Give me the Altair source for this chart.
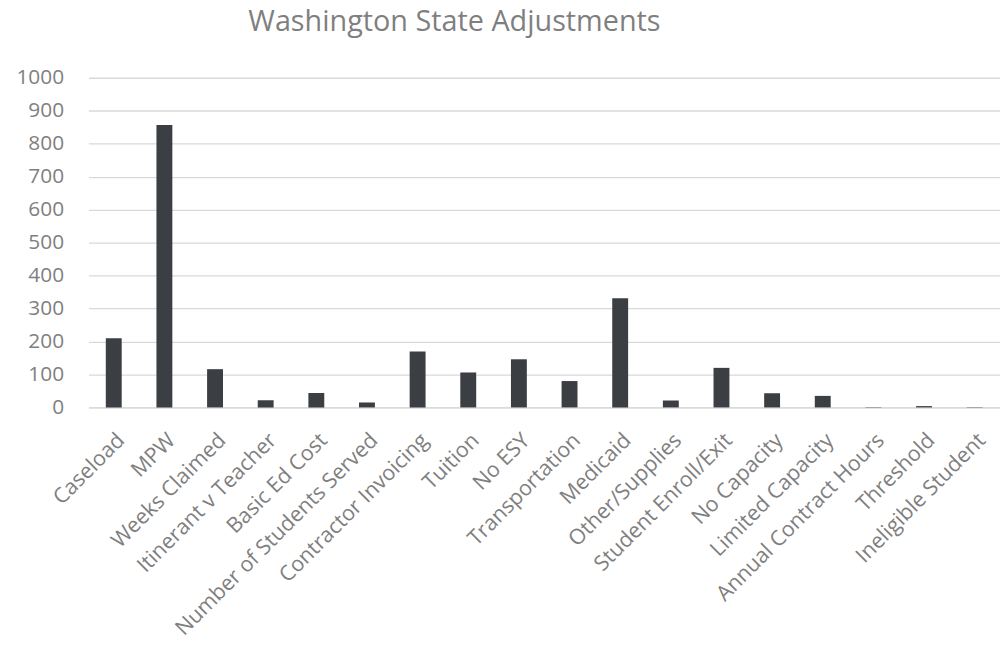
import altair as alt
import pandas as pd

categories = ["Caseload", "MPW", "Weeks Claimed", "Itinerant v Teacher", "Basic Ed Cost",
              "Number of Students Served", "Contractor Invoicing", "Tuition", "No ESY",
              "Transportation", "Medicaid", "Other/Supplies", "Student Enroll/Exit",
              "No Capacity", "Limited Capacity", "Annual Contract Hours", "Threshold",
              "Ineligible Student"]
values = [210, 857, 116, 22, 44, 15, 170, 106, 146, 80, 331, 21, 120, 43, 35, 1, 4, 1]
y_ticks = list(range(0, 1001, 100))

df = pd.DataFrame({"category": categories, "value": values})

FONT = "Open Sans"
GRAY = "#7f7f7f"

chart = alt.Chart(df).mark_bar(color="#3b3f43").encode(
    x=alt.X("category:N", sort=categories, title=None,
            scale=alt.Scale(paddingInner=0.686, paddingOuter=0.343),
            axis=alt.Axis(labelAngle=-45, labelFontSize=21.5, labelColor=GRAY, labelFont=FONT,
                          ticks=False, domain=True, domainColor="#d9d9d9", domainWidth=1.3,
                          labelPadding=22, labelLimit=400)),
    y=alt.Y("value:Q", title=None, scale=alt.Scale(domain=[0, 1000], nice=False),
            axis=alt.Axis(values=y_ticks, format="d", labelFontSize=21, labelColor=GRAY,
                          labelFont=FONT, ticks=False, domain=False, gridColor="#d9d9d9",
                          gridWidth=1.3, labelPadding=25)),
).properties(
    width=918, height=332,
    title=alt.TitleParams("Washington State Adjustments", font=FONT, fontSize=29,
                          fontWeight="normal", color=GRAY, anchor="start", frame="group",
                          dx=161, offset=30),
    autosize=alt.AutoSizeParams(type="none"),
    padding={"left": 81, "top": 68, "right": 0, "bottom": 235},
).configure_view(stroke=None)

chart.save("out.html", embed_options={"renderer": "svg", "actions": False})
